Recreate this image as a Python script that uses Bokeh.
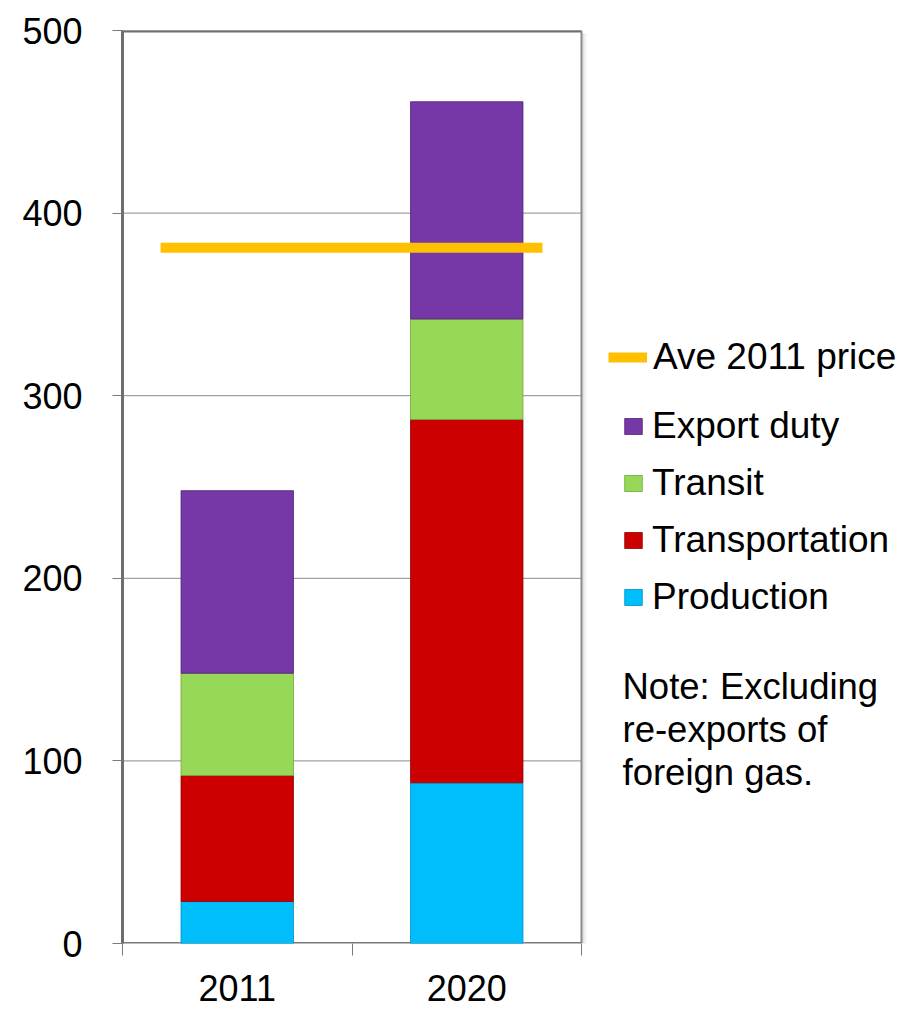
from bokeh.plotting import figure
from bokeh.models import (Range1d, FixedTicker, CustomJSTickFormatter, Legend,
                          LegendItem, Label, ColumnDataSource)
from bokeh.embed import file_html
from bokeh.resources import INLINE

# ---- data ----
years = ["2011", "2020"]
production = [23, 88]
transportation = [69, 199]
transit = [56, 55]
export_duty = [100, 119]
ave_2011_price = 381
y_ticks = [0, 100, 200, 300, 400, 500]

series = ["Production", "Transportation", "Transit", "Export duty"]
colors = ["#00BEFC", "#CC0000", "#98D858", "#7638A7"]
edge_colors = ["#0090C0", "#8E0000", "#6FA83A", "#522078"]
note = "Note: Excluding\nre-exports of\nforeign gas."

FONT = "Liberation Sans"
GRAY = "#7a7a7a"

n = len(years)
xpos = [i + 0.5 for i in range(n)]
src = ColumnDataSource(dict(x=xpos, Production=production,
                            Transportation=transportation,
                            Transit=transit, **{"Export duty": export_duty}))

PX = 229.5  # pixels per category
FRAME_W = 791
ymax = y_ticks[-1]

p = figure(width=913, height=1015, output_backend="svg", toolbar_location=None,
           x_range=Range1d(0, FRAME_W / PX), y_range=Range1d(0, ymax),
           min_border_left=122, min_border_top=30, min_border_right=0,
           min_border_bottom=72, frame_width=FRAME_W, frame_height=913)
p.background_fill_color = "white"
p.border_fill_color = "white"
p.outline_line_color = None
p.xgrid.visible = False
p.ygrid.visible = False

# grid lines restricted to the plotting box
p.segment(x0=[0] * (len(y_ticks) - 1), x1=[n] * (len(y_ticks) - 1),
          y0=y_ticks[1:], y1=y_ticks[1:], line_color="#8a8a8a", line_width=1)

# light shadow to the right of the box
for i, a in enumerate([0.12, 0.08, 0.05, 0.03, 0.015]):
    off = (i + 1.5) / PX
    p.segment(x0=[n + off], x1=[n + off], y0=[-5], y1=[ymax - 1.5],
              line_color="black", line_alpha=a, line_width=1.2)

# box borders
p.segment(x0=[0], x1=[n], y0=[ymax], y1=[ymax], line_color="#6e6e6e", line_width=4)
p.segment(x0=[n], x1=[n], y0=[0], y1=[ymax], line_color="#8a8a8a", line_width=2)
p.segment(x0=[0], x1=[n], y0=[0], y1=[0], line_color=GRAY, line_width=3)

renderers = p.vbar_stack(series, x="x", width=0.49, source=src, color=colors,
                         line_color=edge_colors, line_width=1, line_alpha=0.8)

line_r = p.line(x=[xpos[0] - 0.334, xpos[-1] + 0.33], y=[ave_2011_price] * 2,
                line_color="#FFC000", line_width=10, line_cap="butt")

# axes
yax = p.yaxis[0]
yax.ticker = FixedTicker(ticks=y_ticks)
yax.axis_line_color = "#6e6e6e"
yax.axis_line_width = 3
yax.major_tick_line_color = GRAY
yax.major_tick_line_width = 1
yax.major_tick_out = 10
yax.major_tick_in = 0
yax.minor_tick_line_color = None
yax.major_label_text_font = FONT
yax.major_label_text_font_size = "36px"
yax.major_label_text_color = "black"
yax.major_label_standoff = 30

xax = p.xaxis[0]
xax.ticker = FixedTicker(ticks=xpos, minor_ticks=list(range(n + 1)))
xax.formatter = CustomJSTickFormatter(args=dict(labels=years),
                                      code="const i = Math.floor(tick); return labels[i] ?? '';")
xax.axis_line_color = None
xax.major_tick_line_color = None
xax.major_tick_out = 0
xax.major_tick_in = 0
xax.minor_tick_line_color = GRAY
xax.minor_tick_out = 12
xax.minor_tick_in = 0
xax.major_label_text_font = FONT
xax.major_label_text_font_size = "36px"
xax.major_label_text_color = "black"
xax.major_label_standoff = 19

# legends
def style(lg):
    lg.border_line_color = None
    lg.background_fill_alpha = 0
    lg.padding = 0
    lg.margin = 0
    lg.label_text_font = FONT
    lg.label_text_font_size = "37px"
    lg.label_text_color = "black"

leg1 = Legend(items=[LegendItem(label="Ave 2011 price", renderers=[line_r])],
              location=(486, 565), glyph_width=39, glyph_height=20, label_standoff=6)
style(leg1)
p.add_layout(leg1, "center")

bar_items = [LegendItem(label=s, renderers=[r]) for s, r in zip(series, renderers)][::-1]
leg2 = Legend(items=bar_items, location=(500, 325), glyph_width=22, glyph_height=20,
              label_standoff=8, spacing=15)
style(leg2)
p.add_layout(leg2, "center")

p.add_layout(Label(x=500 / PX, y=152, text=note, text_font=FONT,
                   text_font_size="36.5px", text_baseline="top", text_align="left",
                   text_color="black", text_line_height=1.05))

open("out.html", "w").write(file_html(p, INLINE))
